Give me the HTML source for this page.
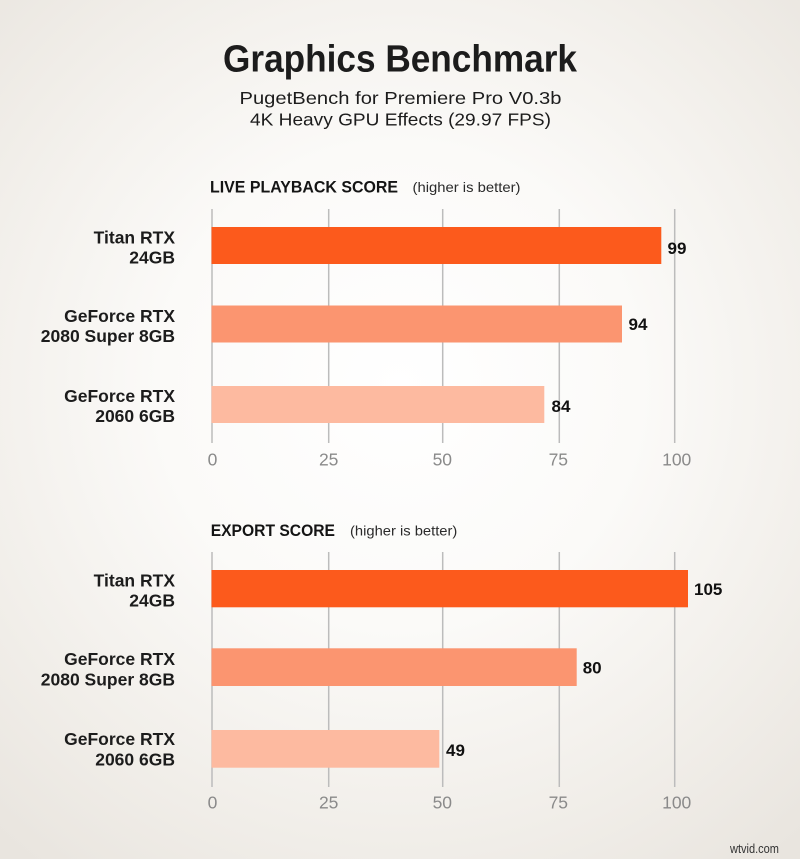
<!DOCTYPE html>
<html>
<head>
<meta charset="utf-8">
<style>
html,body{margin:0;padding:0;}
body{width:800px;height:859px;overflow:hidden;
background:radial-gradient(ellipse 75% 70% at 50% 45%, #ffffff 0%, #fbfaf8 40%, #f1eee9 75%, #e9e5df 100%);}
svg{display:block;}
text{font-family:"Liberation Sans",sans-serif;}
</style>
</head>
<body>
<svg width="800" height="859" viewBox="0 0 800 859" xmlns="http://www.w3.org/2000/svg">
  <!-- Title -->
  <text x="223" y="71.5" font-family="Liberation Sans Narrow, Liberation Sans, sans-serif" font-weight="bold" font-size="38" fill="#1c1c1c" textLength="354" lengthAdjust="spacingAndGlyphs">Graphics Benchmark</text>
  <text x="239.5" y="104" font-size="17.5" fill="#1c1c1c" textLength="322" lengthAdjust="spacingAndGlyphs">PugetBench for Premiere Pro V0.3b</text>
  <text x="250" y="125.5" font-size="17.5" fill="#1c1c1c" textLength="301" lengthAdjust="spacingAndGlyphs">4K Heavy GPU Effects (29.97 FPS)</text>

  <!-- Section 1 header -->
  <text x="210" y="192.5" font-size="16.5" font-weight="bold" fill="#141414" textLength="188" lengthAdjust="spacingAndGlyphs">LIVE PLAYBACK SCORE</text>
  <text x="412.5" y="192" font-size="14" fill="#2a2a2a" textLength="108" lengthAdjust="spacingAndGlyphs">(higher is better)</text>

  <!-- Section 1 grid -->
  <g stroke="#bcbcbc" stroke-width="1.5">
    <line x1="212" y1="209" x2="212" y2="443"/>
    <line x1="328.7" y1="209" x2="328.7" y2="443"/>
    <line x1="442.7" y1="209" x2="442.7" y2="443"/>
    <line x1="559.3" y1="209" x2="559.3" y2="443"/>
    <line x1="674.7" y1="209" x2="674.7" y2="443"/>
  </g>
  <!-- Section 1 bars -->
  <rect x="211.5" y="227" width="449.8" height="37" fill="#fc5a1c"/>
  <rect x="211.5" y="305.5" width="410.5" height="37" fill="#fb9570"/>
  <rect x="211.5" y="386" width="332.8" height="37" fill="#fdbaa0"/>
  <!-- Section 1 values -->
  <g font-size="17" font-weight="bold" fill="#111">
    <text x="667.5" y="254">99</text>
    <text x="628.5" y="330">94</text>
    <text x="551.5" y="412">84</text>
  </g>
  <!-- Section 1 labels -->
  <g font-size="17.5" font-weight="bold" fill="#1c1c1c" text-anchor="end">
    <text x="175" y="243.3">Titan RTX</text>
    <text x="175" y="263.3">24GB</text>
    <text x="175" y="322">GeForce RTX</text>
    <text x="175" y="342">2080 Super 8GB</text>
    <text x="175" y="402">GeForce RTX</text>
    <text x="175" y="422">2060 6GB</text>
  </g>
  <!-- Section 1 ticks -->
  <g font-size="17.5" fill="#8a8a8a" text-anchor="middle">
    <text x="212.5" y="465.3">0</text>
    <text x="328.7" y="465.3">25</text>
    <text x="442.3" y="465.3">50</text>
    <text x="558.3" y="465.3">75</text>
    <text x="676.7" y="465.3">100</text>
  </g>

  <!-- Section 2 header -->
  <text x="210.7" y="536" font-size="16.5" font-weight="bold" fill="#141414" textLength="124.3" lengthAdjust="spacingAndGlyphs">EXPORT SCORE</text>
  <text x="350" y="535.5" font-size="14" fill="#2a2a2a" textLength="107.3" lengthAdjust="spacingAndGlyphs">(higher is better)</text>

  <!-- Section 2 grid -->
  <g stroke="#bcbcbc" stroke-width="1.5">
    <line x1="212" y1="552" x2="212" y2="787"/>
    <line x1="328.7" y1="552" x2="328.7" y2="787"/>
    <line x1="442.7" y1="552" x2="442.7" y2="787"/>
    <line x1="559.3" y1="552" x2="559.3" y2="787"/>
    <line x1="674.7" y1="552" x2="674.7" y2="787"/>
  </g>
  <!-- Section 2 bars -->
  <rect x="211.5" y="570" width="476.5" height="37.3" fill="#fc5a1c"/>
  <rect x="211.5" y="648.3" width="365.2" height="37.7" fill="#fb9570"/>
  <rect x="211.5" y="730" width="227.8" height="37.7" fill="#fdbaa0"/>
  <!-- Section 2 values -->
  <g font-size="17" font-weight="bold" fill="#111">
    <text x="694" y="595">105</text>
    <text x="582.7" y="673.3">80</text>
    <text x="446" y="756">49</text>
  </g>
  <!-- Section 2 labels -->
  <g font-size="17.5" font-weight="bold" fill="#1c1c1c" text-anchor="end">
    <text x="175" y="586.7">Titan RTX</text>
    <text x="175" y="606.7">24GB</text>
    <text x="175" y="665">GeForce RTX</text>
    <text x="175" y="685.7">2080 Super 8GB</text>
    <text x="175" y="745">GeForce RTX</text>
    <text x="175" y="765.7">2060 6GB</text>
  </g>
  <!-- Section 2 ticks -->
  <g font-size="17.5" fill="#8a8a8a" text-anchor="middle">
    <text x="212.5" y="808.7">0</text>
    <text x="328.7" y="808.7">25</text>
    <text x="442.3" y="808.7">50</text>
    <text x="558.3" y="808.7">75</text>
    <text x="676.7" y="808.7">100</text>
  </g>

  <!-- watermark -->
  <text x="730" y="853" font-size="12.5" fill="#333" textLength="49" lengthAdjust="spacingAndGlyphs">wtvid.com</text>
</svg>
</body>
</html>
